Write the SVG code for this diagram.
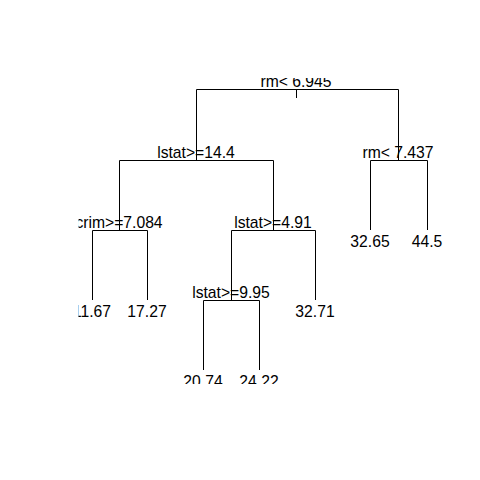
<svg xmlns="http://www.w3.org/2000/svg" width="480" height="480" viewBox="0 0 480 480">
<defs>
<clipPath id="plot"><rect x="78.5" y="78" width="371" height="306"/></clipPath>
<style>
.e{fill:none;stroke:#000;stroke-width:1}
text{font-family:"Liberation Sans",Arial,sans-serif;font-size:15.7px;fill:#000;text-anchor:middle}
</style>
</defs>
<rect width="480" height="480" fill="#fff"/>
<g clip-path="url(#plot)">
<g id="connectors">
<path class="e" d="M296.5 89.5V98"/>
<path class="e" d="M196.5 160V89.5H398.5V160"/>
<path class="e" d="M119.5 230V160.5H273.5V230"/>
<path class="e" d="M370.5 230V160.5H427.5V230"/>
<path class="e" d="M92.5 300V230.5H147.5V300"/>
<path class="e" d="M231.5 300V230.5H315.5V300"/>
<path class="e" d="M203.5 370V300.5H259.5V370"/>
</g>
<g id="n1"><text x="296" y="87">rm&lt; 6.945</text></g>
<g id="n2"><text x="196" y="158">lstat&gt;=14.4</text></g>
<g id="n3"><text x="398" y="158">rm&lt; 7.437</text></g>
<g id="n4"><text x="119" y="228">crim&gt;=7.084</text></g>
<g id="n5"><text x="273" y="228">lstat&gt;=4.91</text></g>
<g id="n6"><text x="370" y="247">32.65</text></g>
<g id="n7"><text x="427" y="247">44.5</text></g>
<g id="n8"><text x="92" y="317">11.67</text></g>
<g id="n9"><text x="147" y="317">17.27</text></g>
<g id="n10"><text x="231" y="298">lstat&gt;=9.95</text></g>
<g id="n11"><text x="315" y="317">32.71</text></g>
<g id="n12"><text x="203" y="387">20.74</text></g>
<g id="n13"><text x="259" y="387">24.22</text></g>
</g>
</svg>
